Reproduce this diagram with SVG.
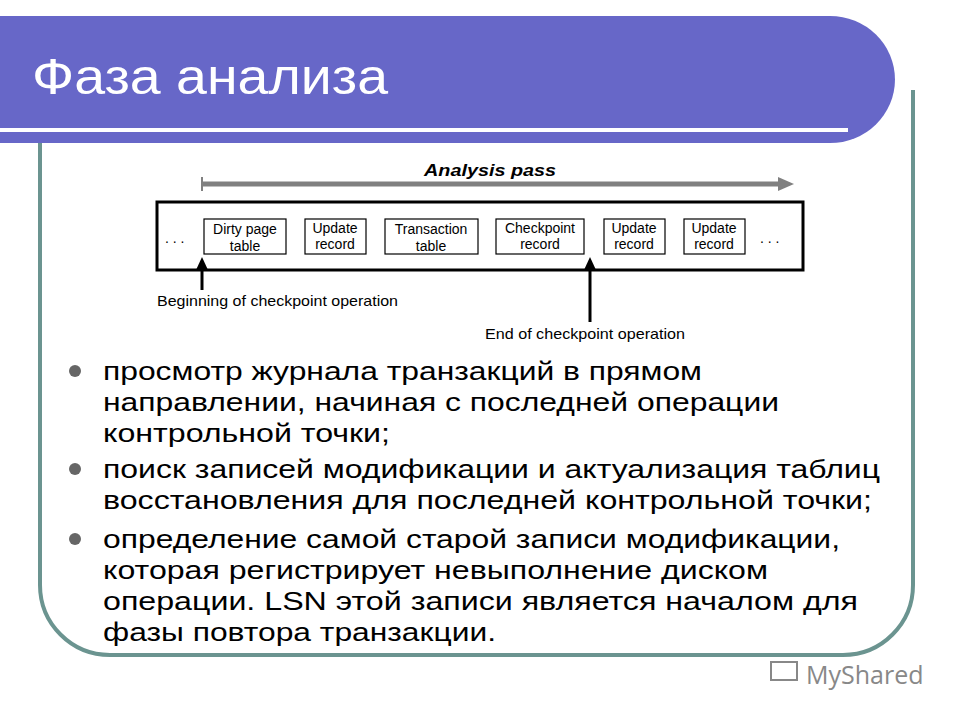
<svg xmlns="http://www.w3.org/2000/svg" width="960" height="720" viewBox="0 0 960 720">
<style>
.s{font-family:"Liberation Sans",Arial,sans-serif}
.b{fill:#fff;stroke:#000;stroke-width:1.2}
.t{font-size:14px;text-anchor:middle}
.m{font-size:26px;fill:#000}
</style>
<rect width="960" height="720" fill="#fff"/>
<path d="M40,140 V585 A70,70 0 0 0 110,655 H843 A70,70 0 0 0 913,585 V90" fill="none" stroke="#6b9490" stroke-width="4"/>
<g id="title">
<path d="M0,16 H830 A65,63.5 0 0 1 830,143 H0Z" fill="#6767c8"/>
<rect x="0" y="128" width="848" height="4" fill="#fff"/>
<text x="32" y="94" class="s" font-size="50" fill="#fff" textLength="356" lengthAdjust="spacingAndGlyphs">Фаза анализа</text>
</g>
<g id="diagram" class="s">
<text x="490" y="176" font-size="17" font-weight="bold" font-style="italic" text-anchor="middle" textLength="132" lengthAdjust="spacingAndGlyphs">Analysis pass</text>
<rect x="157" y="202" width="646" height="68" fill="none" stroke="#000" stroke-width="3"/>
<g id="n1"><rect class="b" x="204" y="219" width="82" height="35"/><text class="t" x="245" y="234">Dirty page</text><text class="t" x="245" y="251">table</text></g>
<g id="n2"><rect class="b" x="305" y="219" width="61" height="35"/><text class="t" x="335" y="233">Update</text><text class="t" x="335" y="249">record</text></g>
<g id="n3"><rect class="b" x="385" y="219" width="93" height="35"/><text class="t" x="431" y="234">Transaction</text><text class="t" x="431" y="251">table</text></g>
<g id="n4"><rect class="b" x="496" y="219" width="88" height="35"/><text class="t" x="540" y="233">Checkpoint</text><text class="t" x="540" y="249">record</text></g>
<g id="n5"><rect class="b" x="604" y="219" width="61" height="35"/><text class="t" x="634" y="233">Update</text><text class="t" x="634" y="249">record</text></g>
<g id="n6"><rect class="b" x="684" y="219" width="61" height="35"/><text class="t" x="714" y="233">Update</text><text class="t" x="714" y="249">record</text></g>
<text x="165" y="243" font-size="14">. . .</text>
<text x="760" y="243" font-size="14">. . .</text>
<text x="157" y="306" font-size="15" textLength="241" lengthAdjust="spacingAndGlyphs">Beginning of checkpoint operation</text>
<text x="485" y="339" font-size="15" textLength="200" lengthAdjust="spacingAndGlyphs">End of checkpoint operation</text>
</g>
<g id="connectors">
<line x1="202" y1="184" x2="780" y2="184" stroke="#808080" stroke-width="5"/>
<path d="M778,177 L794,184 L778,191Z" fill="#808080"/>
<line x1="202" y1="177" x2="202" y2="191" stroke="#808080" stroke-width="2"/>
<line x1="202" y1="290" x2="202" y2="268" stroke="#000" stroke-width="3"/>
<path d="M196,270 L202,257 L208,270Z"/>
<line x1="590" y1="322" x2="590" y2="268" stroke="#000" stroke-width="3"/>
<path d="M584,270 L590,257 L596,270Z"/>
</g>
<g id="bullets" class="s">
<circle cx="75" cy="371" r="6" fill="#666"/>
<circle cx="75" cy="469" r="6" fill="#666"/>
<circle cx="75" cy="539" r="6" fill="#666"/>
<text class="m" x="103" y="380" textLength="599" lengthAdjust="spacingAndGlyphs">просмотр журнала транзакций в прямом</text>
<text class="m" x="103" y="411" textLength="676" lengthAdjust="spacingAndGlyphs">направлении, начиная с последней операции</text>
<text class="m" x="103" y="442" textLength="287" lengthAdjust="spacingAndGlyphs">контрольной точки;</text>
<text class="m" x="103" y="478" textLength="777" lengthAdjust="spacingAndGlyphs">поиск записей модификации и актуализация таблиц</text>
<text class="m" x="103" y="509" textLength="769" lengthAdjust="spacingAndGlyphs">восстановления для последней контрольной точки;</text>
<text class="m" x="103" y="548" textLength="737" lengthAdjust="spacingAndGlyphs">определение самой старой записи модификации,</text>
<text class="m" x="103" y="579" textLength="665" lengthAdjust="spacingAndGlyphs">которая регистрирует невыполнение диском</text>
<text class="m" x="103" y="610" textLength="755" lengthAdjust="spacingAndGlyphs">операции. LSN этой записи является началом для</text>
<text class="m" x="103" y="641" textLength="393" lengthAdjust="spacingAndGlyphs">фазы повтора транзакции.</text>
</g>
<g id="watermark">
<rect x="771" y="662" width="26" height="18" fill="none" stroke="#888" stroke-width="2"/>
<text x="806" y="684" font-family="'Open Sans',sans-serif" font-size="25" fill="#888">MyShared</text>
</g>
</svg>
